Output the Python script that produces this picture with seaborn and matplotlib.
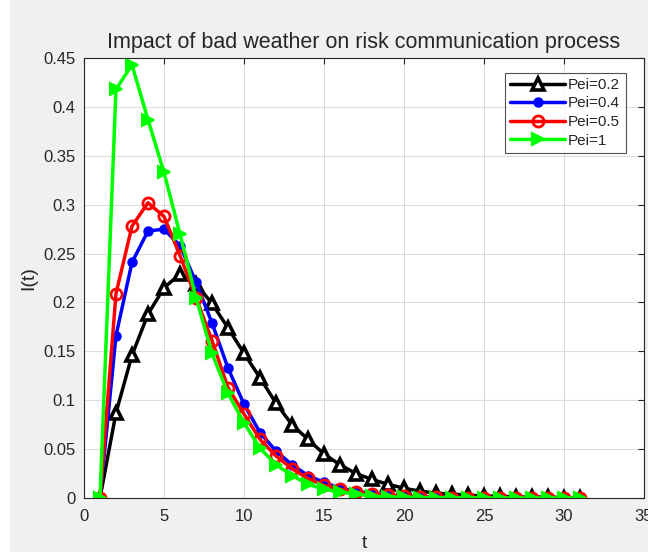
import numpy as np
import pandas as pd
import seaborn as sns
import matplotlib.pyplot as plt
from matplotlib.patches import Rectangle

# data
t = list(range(1, 32))

pei_02 = [0, 0.087, 0.146, 0.188, 0.215, 0.229, 0.219, 0.199, 0.174, 0.148,
          0.123, 0.097, 0.075, 0.060, 0.045, 0.034, 0.025, 0.019, 0.014, 0.010,
          0.007, 0.005, 0.004, 0.003, 0.002, 0.002, 0.001, 0.001, 0.001, 0.0005, 0.0003]
pei_04 = [0, 0.166, 0.241, 0.273, 0.275, 0.258, 0.221, 0.179, 0.133, 0.096,
          0.067, 0.048, 0.034, 0.023, 0.016, 0.010, 0.007, 0.005, 0.003, 0.002,
          0.001, 0.001, 0.001, 0.0005, 0.0003, 0.0002, 0.0001, 0, 0, 0, 0]
pei_05 = [0, 0.209, 0.278, 0.302, 0.288, 0.248, 0.205, 0.161, 0.113, 0.086,
          0.060, 0.043, 0.030, 0.020, 0.013, 0.009, 0.006, 0.004, 0.003, 0.002,
          0.001, 0.001, 0.0005, 0.0003, 0.0002, 0.0001, 0, 0, 0, 0, 0]
pei_1 = [0, 0.418, 0.443, 0.387, 0.333, 0.270, 0.205, 0.148, 0.107, 0.077,
         0.051, 0.034, 0.023, 0.014, 0.009, 0.006, 0.004, 0.002, 0.001, 0.001,
         0.0005, 0.0003, 0.0002, 0.0001, 0, 0, 0, 0, 0, 0, 0]

labels = ['Pei=0.2', 'Pei=0.4', 'Pei=0.5', 'Pei=1']
colors = ['black', 'blue', 'red', '#00ff00']

df = pd.DataFrame({'t': t, 'Pei=0.2': pei_02, 'Pei=0.4': pei_04,
                   'Pei=0.5': pei_05, 'Pei=1': pei_1})
long_df = df.melt(id_vars='t', var_name='series', value_name='I')

sns.set_style('white')
plt.rcParams['font.family'] = ['Liberation Sans', 'DejaVu Sans']

fig = plt.figure(figsize=(6.48, 5.52), dpi=100, facecolor='#f0f0f0')
# thin white strip on the left edge, as in the screenshot
fig.patches.append(Rectangle((0, 0), 10 / 648, 1, transform=fig.transFigure,
                             facecolor='white', edgecolor='none', zorder=-1))
ax = fig.add_axes([0.1296, 0.0978, 0.8642, 0.7971])

# marker style for each curve
styles = {
    'Pei=0.2': dict(marker='^', markersize=8, markerfacecolor='white', markeredgewidth=2.6),
    'Pei=0.4': dict(marker='o', markersize=6, markerfacecolor='blue', markeredgewidth=1.5),
    'Pei=0.5': dict(marker='o', markersize=8, markerfacecolor='none', markeredgewidth=2),
    'Pei=1': dict(marker='>', markersize=9, markerfacecolor='#00ff00', markeredgewidth=1.5),
}

for lab, col in zip(labels, colors):
    sub = long_df[long_df['series'] == lab]
    sns.lineplot(data=sub, x='t', y='I', ax=ax, color=col, linewidth=2.5,
                 label=lab, markeredgecolor=col, **styles[lab])

ax.set_xlim(0, 35)
ax.set_ylim(0, 0.45)
ax.set_xticks(np.arange(0, 36, 5))
ax.set_yticks(np.arange(0, 0.451, 0.05))
ax.set_yticklabels(['0', '0.05', '0.1', '0.15', '0.2', '0.25', '0.3', '0.35', '0.4', '0.45'])
ax.grid(True, color='#dcdcdc', linewidth=0.8)
ax.tick_params(direction='in', length=4, labelsize=12, colors='#262626',
               top=True, right=True)
ax.tick_params(axis='x', pad=8)
ax.tick_params(axis='y', pad=6)
for s in ax.spines.values():
    s.set_color('#262626')
    s.set_linewidth(0.8)

ax.set_title('Impact of bad weather on risk communication process', fontsize=15.5, pad=7)
ax.set_xlabel('t', fontsize=14, labelpad=8)
ax.set_ylabel('I(t)', fontsize=14, labelpad=4)

leg = ax.legend(loc='upper right', bbox_to_anchor=(0.967, 0.967), fontsize=11,
                handlelength=3.6, frameon=True, fancybox=False, edgecolor='#262626',
                borderpad=0.35, labelspacing=0.3, handletextpad=0.2,
                borderaxespad=0)
leg.get_frame().set_linewidth(0.8)

fig.savefig('out.png', dpi=100, facecolor=fig.get_facecolor())
